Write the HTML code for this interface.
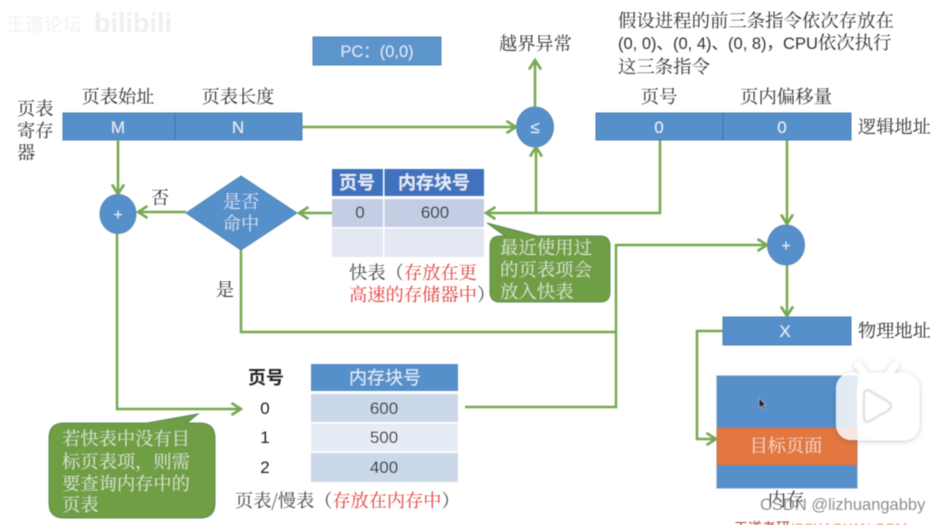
<!DOCTYPE html>
<html lang="zh">
<head>
<meta charset="utf-8">
<style>
html,body{margin:0;padding:0;background:#fff;overflow:hidden}
svg{display:block}
text{font-family:"Liberation Sans","Noto Sans CJK SC",sans-serif}
.s{font-family:"Noto Serif CJK SC","Liberation Serif",serif}
</style>
</head>
<body>
<svg width="943" height="525" viewBox="0 0 943 525" xmlns="http://www.w3.org/2000/svg">
<defs>
<marker id="a" markerUnits="userSpaceOnUse" markerWidth="13" markerHeight="15" refX="11" refY="7.500" orient="auto">
<path d="M1.500 1.500L11 7.500L1.500 13.500" fill="none" stroke="#76A84F" stroke-width="2.600"/>
</marker>
<filter id="b" x="-5%" y="-5%" width="110%" height="110%"><feGaussianBlur stdDeviation="0.45"/></filter>
<filter id="sh" x="-20%" y="-20%" width="140%" height="140%"><feDropShadow dx="0" dy="1" stdDeviation="3" flood-color="#000" flood-opacity=".25"/></filter>
</defs>
<g filter="url(#b)">
<!-- watermark -->
<text x="6" y="31" font-size="19" fill="#f2f2f2">王道论坛</text>
<text x="94" y="32" font-size="27" font-weight="bold" fill="#efefef">bilibili</text>

<!-- PC -->
<rect x="313" y="37" width="128" height="28" fill="#5b94cc" stroke="#5584b4"/>
<text x="377" y="57" font-size="16.500" fill="#dce8f4" text-anchor="middle">PC：(0,0)</text>

<!-- register -->
<rect x="63" y="113" width="239" height="27" fill="#5590cb" stroke="#4d7fae"/>
<line x1="175" y1="113" x2="175" y2="140" stroke="#44709c"/>
<text x="118" y="133" font-size="17" fill="#e8f0f8" text-anchor="middle">M</text>
<text x="238" y="133" font-size="17" fill="#e8f0f8" text-anchor="middle">N</text>
<text class="s" x="118" y="103" font-size="18.200" fill="#333" text-anchor="middle">页表始址</text>
<text class="s" x="238" y="103" font-size="18.200" fill="#333" text-anchor="middle">页表长度</text>
<text class="s" x="17" y="115" font-size="18.200" fill="#333">页表</text>
<text class="s" x="17" y="137" font-size="18.200" fill="#333">寄存</text>
<text class="s" x="17" y="159" font-size="18.200" fill="#333">器</text>

<!-- connectors -->
<g fill="none" stroke="#76A84F" stroke-width="2.500">
<path d="M118 140V194" marker-end="url(#a)"/>
<path d="M186 212H138" marker-end="url(#a)"/>
<path d="M332 213H299" marker-end="url(#a)"/>
<path d="M302 127H516" marker-end="url(#a)"/>
<path d="M535 107V60" marker-end="url(#a)"/>
<path d="M536 213V147" marker-end="url(#a)"/>
<path d="M660 140V213H486" marker-end="url(#a)"/>
<path d="M787 140V224" marker-end="url(#a)"/>
<path d="M787 265V316" marker-end="url(#a)"/>
<path d="M241 250V332H616" />
<path d="M465 407H616V245H767" marker-end="url(#a)"/>
<path d="M117 233V409H241" marker-end="url(#a)"/>
<path d="M723 331H697V439H716" marker-end="url(#a)"/>
</g>

<!-- circles -->
<ellipse cx="118" cy="214" rx="18" ry="19.500" fill="#5590cb" stroke="#5c88b0"/>
<text x="118" y="220" font-size="16" fill="#e8f0f8" text-anchor="middle">+</text>
<ellipse cx="535" cy="127" rx="18.500" ry="20" fill="#5590cb" stroke="#5c88b0"/>
<text x="535" y="133" font-size="17" fill="#e8f0f8" text-anchor="middle">≤</text>
<ellipse cx="786" cy="245" rx="18.500" ry="20" fill="#5590cb" stroke="#5c88b0"/>
<text x="786" y="251" font-size="16" fill="#e8f0f8" text-anchor="middle">+</text>

<!-- diamond -->
<polygon points="186,213 241,176 297,213 241,250" fill="#5590cb" stroke="#5c88b0"/>
<text class="s" x="241" y="208" font-size="18.200" fill="#cfe0f0" text-anchor="middle">是否</text>
<text class="s" x="241" y="230" font-size="18.200" fill="#cfe0f0" text-anchor="middle">命中</text>
<text class="s" x="160" y="204" font-size="18" fill="#333" text-anchor="middle">否</text>
<text class="s" x="225" y="296" font-size="18" fill="#333" text-anchor="middle">是</text>

<!-- fast table -->
<rect x="332" y="169" width="51" height="27" fill="#4172bd"/>
<rect x="384.500" y="169" width="99.500" height="27" fill="#4172bd"/>
<rect x="332" y="199" width="51" height="28" fill="#c3cde3"/>
<rect x="384.500" y="199" width="99.500" height="28" fill="#c3cde3"/>
<rect x="332" y="228.500" width="51" height="28.500" fill="#e3e8f3"/>
<rect x="384.500" y="228.500" width="99.500" height="28.500" fill="#e3e8f3"/>
<text x="357" y="189" font-size="18" font-weight="bold" fill="#e4ebf6" text-anchor="middle">页号</text>
<text x="434" y="189" font-size="18" font-weight="bold" fill="#e4ebf6" text-anchor="middle">内存块号</text>
<text x="360" y="218" font-size="17" fill="#222" text-anchor="middle">0</text>
<text x="435" y="218" font-size="17" fill="#222" text-anchor="middle">600</text>
<text class="s" x="349" y="279" font-size="18.300" fill="#444">快表（<tspan fill="#e0403f">存放在更</tspan></text>
<text class="s" x="349" y="301" font-size="18.300" fill="#e0403f">高速的存储器中<tspan fill="#444">）</tspan></text>

<!-- callout top -->
<path d="M487 223L537 236H600Q610 236 610 246V292Q610 302 600 302H500Q490 302 490 292V246Q490 236 500 236H505Z" fill="#6f9e44" stroke="#5d8a55"/>
<text class="s" font-size="18.400" fill="#d6e6c8"><tspan x="500" y="254">最近使用过</tspan><tspan x="500" y="276">的页表项会</tspan><tspan x="500" y="298">放入快表</tspan></text>

<!-- top-right note -->
<text class="s" font-size="18.400" fill="#333"><tspan x="618" y="27">假设进程的前三条指令依次存放在</tspan></text>
<text x="618" y="49" font-size="16.500" fill="#333">(0, 0)、(0, 4)、(0, 8)，CPU<tspan class="s" font-size="18.400">依次执行</tspan></text>
<text class="s" x="618" y="73" font-size="18.400" fill="#333">这三条指令</text>

<text class="s" x="499" y="50" font-size="18.200" fill="#333">越界异常</text>

<!-- logical address -->
<rect x="596" y="113" width="255" height="27" fill="#5590cb" stroke="#4d7fae"/>
<line x1="723" y1="113" x2="723" y2="140" stroke="#44709c"/>
<text x="659" y="133" font-size="17" fill="#e8f0f8" text-anchor="middle">0</text>
<text x="782" y="133" font-size="17" fill="#e8f0f8" text-anchor="middle">0</text>
<text class="s" x="659" y="103" font-size="18.400" fill="#333" text-anchor="middle">页号</text>
<text class="s" x="786" y="103" font-size="18.400" fill="#333" text-anchor="middle">页内偏移量</text>
<text class="s" x="858" y="133" font-size="18.200" fill="#333">逻辑地址</text>

<!-- physical address -->
<rect x="723" y="317" width="128" height="28" fill="#5590cb" stroke="#4d7fae"/>
<text x="785" y="337" font-size="17" fill="#e8f0f8" text-anchor="middle">X</text>
<text class="s" x="858" y="337" font-size="18.200" fill="#333">物理地址</text>

<!-- memory -->
<rect x="717" y="376" width="140" height="112" fill="#5590cb" stroke="#6a95c0"/>
<rect x="717" y="428" width="140" height="37" fill="#e2773f" stroke="#b87850"/>
<text class="s" x="786" y="452" font-size="18.200" fill="#f5d8c4" text-anchor="middle">目标页面</text>
<text class="s" x="786" y="506" font-size="18.200" fill="#333" text-anchor="middle">内存</text>
<path d="M759 398l0 10 2.500-2 2 4 1.500-.8-2-3.800 3-.4z" fill="#222" stroke="#ccc" stroke-width=".5"/>

<!-- page table -->
<rect x="311" y="364" width="147" height="27" fill="#5590cb"/>
<rect x="311" y="394" width="147" height="28" fill="#cbd8e9"/>
<rect x="311" y="423.500" width="147" height="28" fill="#e6ecf5"/>
<rect x="311" y="453" width="147" height="29" fill="#cbd8e9"/>
<text x="385" y="384" font-size="18" fill="#e4ebf6" text-anchor="middle">内存块号</text>
<text x="384" y="414" font-size="17" fill="#222" text-anchor="middle">600</text>
<text x="384" y="443" font-size="17" fill="#222" text-anchor="middle">500</text>
<text x="384" y="473" font-size="17" fill="#222" text-anchor="middle">400</text>
<text x="266" y="384" font-size="18" font-weight="bold" fill="#222" text-anchor="middle">页号</text>
<text x="265" y="414" font-size="17" fill="#222" text-anchor="middle">0</text>
<text x="265" y="443" font-size="17" fill="#222" text-anchor="middle">1</text>
<text x="265" y="473" font-size="17" fill="#222" text-anchor="middle">2</text>
<text class="s" x="235" y="507" font-size="18.200" fill="#444">页表/慢表（<tspan fill="#e0403f">存放在内存中</tspan>）</text>

<!-- callout bottom -->
<path d="M198 414L187 423H200Q215 423 215 438V503Q215 518 200 518H64Q49 518 49 503V438Q49 423 64 423H147Z" fill="#6f9e44" stroke="#5d8a55"/>
<text class="s" font-size="18.300" fill="#d6e6c8"><tspan x="62" y="445">若快表中没有目</tspan><tspan x="62" y="468">标页表项，则需</tspan><tspan x="62" y="490">要查询内存中的</tspan><tspan x="62" y="511">页表</tspan></text>

<!-- bilibili logo overlay -->
<g filter="url(#sh)">
<path d="M858 365L866 376M895 365L887 376" stroke="#fff" stroke-width="7" stroke-linecap="round"/>
<rect x="836" y="373" width="83" height="67" rx="15" fill="#fff" fill-opacity=".82"/>
<rect x="857" y="373" width="62" height="67" rx="15" fill="#fff"/>
</g>
<path d="M864 395Q864 388 870 391L889 402Q893 406 889 410L870 421Q864 424 864 417Z" fill="#fff" stroke="#e2e2e2" stroke-width="2.500"/>

<!-- CSDN watermark -->
<text x="760" y="510" font-size="16.500" fill="#7a7a7a" fill-opacity=".85">CSDN @lizhuangabby</text>
<text x="734" y="533" font-size="14" fill="#a8442e">王道考研</text>
<text x="790" y="533" font-size="14" fill="#e89a80">/CSKAOYAN.COM</text>
</g>
</svg>
</body>
</html>
